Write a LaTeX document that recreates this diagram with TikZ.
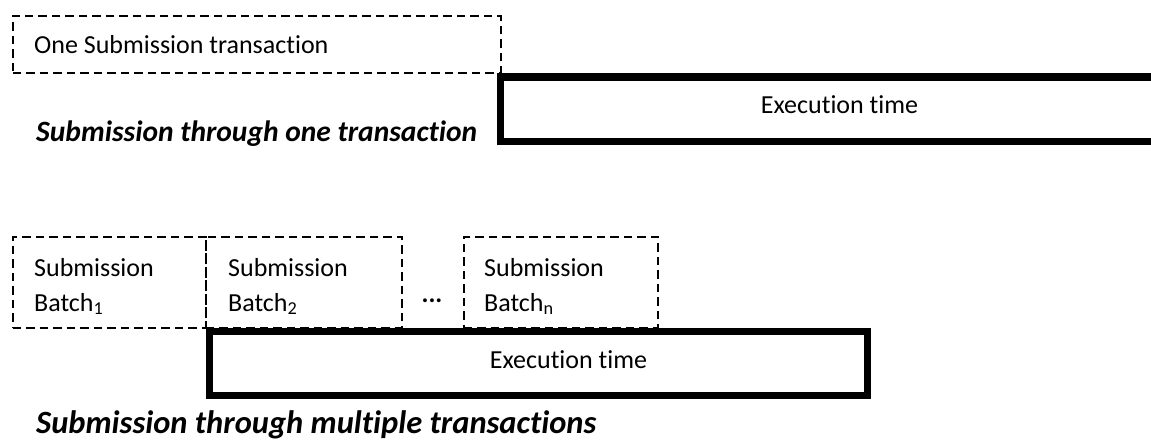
\documentclass[tikz,border=0pt]{standalone}
\usepackage{fontspec}
\setmainfont{Carlito}[Ligatures={NoCommon}]
\begin{document}
\begin{tikzpicture}[x=1pt,y=-1pt,
  dbox/.style={draw=black, line width=1.9pt, dash pattern=on 8.5pt off 5pt, inner sep=0pt, anchor=north west},
  tbox/.style={draw=black, line width=7pt, inner sep=0pt, anchor=north west},
  lbl/.style={font=\fontsize{26}{34}\selectfont, inner sep=0pt, anchor=base west},
  ttl/.style={font=\fontsize{29.5}{34}\selectfont\bfseries\itshape, inner sep=0pt, anchor=base west}]
\clip (0,0) rectangle (1151,444);
\fill[white] (0,0) rectangle (1151,444);
% top part
\node[dbox, minimum width=488pt, minimum height=57pt] (one) at (12,15) {};
\node[lbl] (onet) at (34,53) {One Submission transaction};
\node[tbox, minimum width=688pt, minimum height=64pt] (exec1) at (497,73.5) {};
\node[lbl, anchor=base] (exec1t) at (839.5,113) {Execution time};
\node[ttl] (title1) at (36,141) {Submission through one transaction};
% bottom part
\node[dbox, minimum width=193pt, minimum height=91pt] (b1) at (12,236) {};
\node[dbox, minimum width=196pt, minimum height=91pt] (b2) at (205,236) {};
\node[dbox, minimum width=194pt, minimum height=91pt] (bn) at (463,236) {};
\node[lbl] (b1a) at (34,276) {Submission};
\node[lbl] (b1b) at (34,311) {Batch\textsubscript{1}};
\node[lbl] (b2a) at (228,276) {Submission};
\node[lbl] (b2b) at (228,311) {Batch\textsubscript{2}};
\node[lbl] (bna) at (484,276) {Submission};
\node[lbl] (bnb) at (484,311) {Batch\textsubscript{n}};
\node[lbl, anchor=base, font=\fontsize{26}{34}\selectfont\bfseries] (dots) at (432,302) {...};
\node[tbox, minimum width=657.5pt, minimum height=64pt] (exec2) at (206,328) {};
\node[lbl, anchor=base] (exec2t) at (568.5,368) {Execution time};
\node[ttl, font=\fontsize{32.5}{38}\selectfont\bfseries\itshape] (title2) at (36,433) {Submission through multiple transactions};
\end{tikzpicture}
\end{document}
